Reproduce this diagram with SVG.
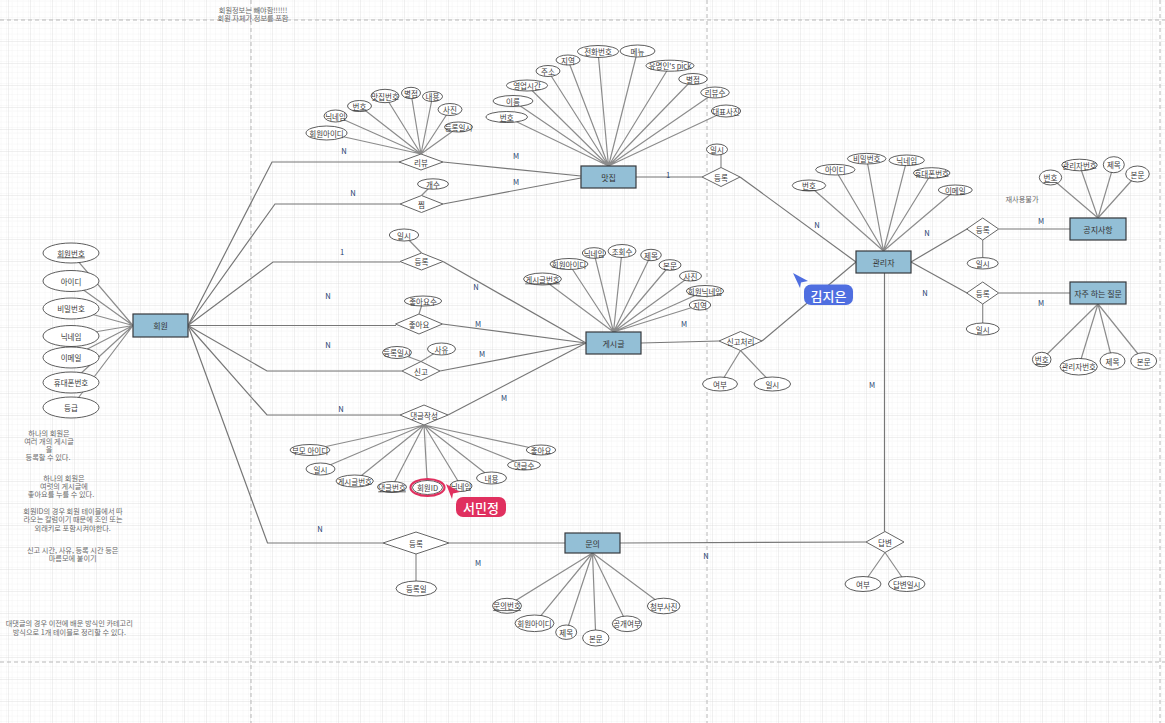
<svg xmlns="http://www.w3.org/2000/svg" width="1165" height="723" viewBox="0 0 1165 723">
<defs>
<pattern id="gMinor" x="9" y="20" width="5.5" height="5.5" patternUnits="userSpaceOnUse">
<path d="M5.5 0V5.5H0" fill="none" stroke="#ececec" stroke-width="0.6"/>
</pattern>
<pattern id="gMajor" x="9" y="20" width="22" height="22" patternUnits="userSpaceOnUse">
<rect width="22" height="22" fill="url(#gMinor)"/>
<path d="M22 0V22H0" fill="none" stroke="#d9d9d9" stroke-width="0.8"/>
</pattern>
<style>
text{font-family:"Noto Sans CJK KR","Noto Sans",sans-serif;text-anchor:middle;dominant-baseline:central}
.ent rect{fill:#93bfd6;stroke:#36393d;stroke-width:1.2}
.ent text{font-size:8px;fill:#333}
.attr ellipse{fill:#fff;stroke:#333;stroke-width:0.8}
.attr text{font-size:7.5px;fill:#3a3a3a}
.pk text{text-decoration:underline}
.rel polygon{fill:#fff;stroke:#666;stroke-width:1}
.rel text{font-size:7.5px;fill:#3a3a3a}
.c{fill:none;stroke:#777;stroke-width:1.2}
.a{fill:none;stroke:#8c8c8c;stroke-width:1.2}
.card{font-size:7.5px;fill:#23406e}
.note{font-size:7.2px;fill:#6a6a6a}
.page{stroke:#b8b8b8;stroke-width:1;stroke-dasharray:4 3;fill:none}
</style>
</defs>
<rect width="1165" height="723" fill="#fff"/>
<rect width="1165" height="723" fill="url(#gMajor)"/>
<g id="pages">
<path class="page" d="M0 20H1165M0 662H1165M251 0V723M707 0V723M1160 0V723"/>
</g>

<g id="connectors">
<path class="c" d="M188 325.5L272 162H400"/>
<path class="c" d="M188 325.5L275 204H400"/>
<path class="c" d="M188 325.5L273 262H400"/>
<path class="c" d="M188 325.5H396"/>
<path class="c" d="M188 325.5L267 371H402"/>
<path class="c" d="M188 325.5L267 415H400"/>
<path class="c" d="M188 325.5L267.5 543H383"/>
<path class="c" d="M443 162L581 176"/>
<path class="c" d="M443 204L581 178"/>
<path class="c" d="M636 177H702"/>
<path class="c" d="M740 177L856 262"/>
<path class="c" d="M443 261.5L586 343"/>
<path class="c" d="M442.5 324L586 343"/>
<path class="c" d="M440 371L586 343"/>
<path class="c" d="M448 415L586 343"/>
<path class="c" d="M641 343L719 341"/>
<path class="c" d="M762 341L856 262"/>
<path class="c" d="M911 262L967 229"/>
<path class="c" d="M911 262L967 293"/>
<path class="c" d="M999 229H1070"/>
<path class="c" d="M999 293H1070"/>
<path class="c" d="M884.5 273V531.5"/>
<path class="c" d="M449 543H565"/>
<path class="c" d="M620 543L866 542"/>
<path class="a" d="M133 325.5L71 253M133 325.5L71 281M133 325.5L71 308.5M133 325.5L71 336M133 325.5L71 357.5M133 325.5L71 382.5M133 325.5L71 407.5"/>
<path class="a" d="M421 154L326.5 133M421 154L335.5 116M421 154L359.5 106M421 154L385 96M421 154L411 93M421 154L432.5 96.5M421 154L450 109.5M421 154L458.5 127"/>
<path class="a" d="M608.5 166L506.7 117M608.5 166L513 101M608.5 166L527 85.5M608.5 166L548 71M608.5 166L568 60M608.5 166L598 51.5M608.5 166L637.5 51M608.5 166L670 65.7M608.5 166L693 79M608.5 166L715 92.5M608.5 166L726 111"/>
<path class="a" d="M721 167.5V150"/>
<path class="a" d="M421.5 195.5L433 184"/>
<path class="a" d="M421.5 253L404 235"/>
<path class="a" d="M419 314L423 301"/>
<path class="a" d="M421 361.5L397 352.5M421 361.5L441.5 349"/>
<path class="a" d="M613.5 332L542.5 279M613.5 332L569 264M613.5 332L594 253M613.5 332L622 251M613.5 332L651 255M613.5 332L670 265M613.5 332L690.5 276M613.5 332L705 291M613.5 332L700 305"/>
<path class="a" d="M424 425L310 450M424 425L320.5 469M424 425L354.7 481M424 425L392 487M424 425L427.5 487.5M424 425L461 486M424 425L491.5 478M424 425L524 465M424 425L541 450"/>
<path class="a" d="M740.5 350.5L720 384M740.5 350.5L772.3 384"/>
<path class="a" d="M883.5 251L809 185.5M883.5 251L835.3 169.7M883.5 251L866.7 158.7M883.5 251L906.7 160.3M883.5 251L931.7 173M883.5 251L955.3 190"/>
<path class="a" d="M982.7 240V263M982.7 304V329"/>
<path class="a" d="M1098 218L1050.5 177.5M1098 218L1079.5 165M1098 218L1113.8 164.7M1098 218L1137.5 174"/>
<path class="a" d="M1098 304L1041.7 359.5M1098 304L1078.7 366.7M1098 304L1112.5 361M1098 304L1143.7 361"/>
<path class="a" d="M885 552.5L863 584M885 552.5L906.7 584"/>
<path class="a" d="M416 554V588"/>
<path class="a" d="M592.5 553L507 605.8M592.5 553L534.5 623.3M592.5 553L566.2 632.2M592.5 553L595.8 638M592.5 553L627 623.8M592.5 553L663.7 606"/>
</g>

<g id="cardinalities">
<text class="card" x="344" y="150">N</text>
<text class="card" x="516" y="155">M</text>
<text class="card" x="353" y="192">N</text>
<text class="card" x="516" y="181">M</text>
<text class="card" x="668" y="174">1</text>
<text class="card" x="342" y="251">1</text>
<text class="card" x="476" y="286">N</text>
<text class="card" x="328" y="295">N</text>
<text class="card" x="478" y="323">M</text>
<text class="card" x="328" y="344">N</text>
<text class="card" x="482" y="353">M</text>
<text class="card" x="341" y="408">N</text>
<text class="card" x="504" y="397">M</text>
<text class="card" x="684" y="323">M</text>
<text class="card" x="817" y="224">N</text>
<text class="card" x="927" y="232">N</text>
<text class="card" x="1041" y="220">M</text>
<text class="card" x="925" y="292">N</text>
<text class="card" x="1041" y="302">M</text>
<text class="card" x="872" y="384">M</text>
<text class="card" x="320" y="528">N</text>
<text class="card" x="478" y="562">M</text>
<text class="card" x="706" y="555">N</text>
</g>

<g id="e_member" class="ent"><rect x="133" y="314" width="55" height="23"/><text x="160.5" y="325.5">회원</text></g>
<g id="e_restaurant" class="ent"><rect x="581" y="166" width="55" height="22"/><text x="608.5" y="177">맛집</text></g>
<g id="e_post" class="ent"><rect x="586" y="332" width="55" height="22"/><text x="613.5" y="343">게시글</text></g>
<g id="e_admin" class="ent"><rect x="856" y="251" width="55" height="22"/><text x="883.5" y="262">관리자</text></g>
<g id="e_notice" class="ent"><rect x="1070" y="218" width="56" height="22"/><text x="1098" y="229">공지사항</text></g>
<g id="e_faq" class="ent"><rect x="1070" y="282" width="56" height="22"/><text x="1098" y="293">자주 하는 질문</text></g>
<g id="e_inquiry" class="ent"><rect x="565" y="533" width="55" height="20"/><text x="592.5" y="543">문의</text></g>

<g id="r_review" class="rel"><polygon points="399,162 421,154 443,162 421,170"/><text x="421" y="162">리뷰</text></g>
<g id="r_wish" class="rel"><polygon points="400,204 421.5,195.5 443,204 421.5,212.5"/><text x="421.5" y="204">찜</text></g>
<g id="r_regpost" class="rel"><polygon points="400,261.5 421.5,253 443,261.5 421.5,270"/><text x="421.5" y="261.5">등록</text></g>
<g id="r_like" class="rel"><polygon points="395.5,324 419,314 442.5,324 419,334"/><text x="419" y="324">좋아요</text></g>
<g id="r_report" class="rel"><polygon points="402,371 421,361.5 440,371 421,380.5"/><text x="421" y="371">신고</text></g>
<g id="r_comment" class="rel"><polygon points="400,415 424,405 448,415 424,425"/><text x="424" y="415">댓글작성</text></g>
<g id="r_regrest" class="rel"><polygon points="702,177 721,167.5 740,177 721,186.5"/><text x="721" y="177">등록</text></g>
<g id="r_reportproc" class="rel"><polygon points="719,341 740.5,331.5 762,341 740.5,350.5"/><text x="740.5" y="341">신고처리</text></g>
<g id="r_regnotice" class="rel"><polygon points="966.7,229 982.7,218 998.7,229 982.7,240"/><text x="982.7" y="229">등록</text></g>
<g id="r_regfaq" class="rel"><polygon points="966.7,293 982.7,282 998.7,293 982.7,304"/><text x="982.7" y="293">등록</text></g>
<g id="r_reginq" class="rel"><polygon points="383,543 416,532 449,543 416,554"/><text x="416" y="543">등록</text></g>
<g id="r_answer" class="rel"><polygon points="866,542 885,531.5 904,542 885,552.5"/><text x="885" y="542">답변</text></g>

<g id="a_m1" class="attr pk"><ellipse cx="71" cy="253" rx="28" ry="10"/><text x="71" y="253">회원번호</text></g>
<g id="a_m2" class="attr"><ellipse cx="71" cy="281" rx="28" ry="10.5"/><text x="71" y="281">아이디</text></g>
<g id="a_m3" class="attr"><ellipse cx="71" cy="308.5" rx="28" ry="10.5"/><text x="71" y="308.5">비밀번호</text></g>
<g id="a_m4" class="attr"><ellipse cx="71" cy="336" rx="28" ry="10.5"/><text x="71" y="336">닉네임</text></g>
<g id="a_m5" class="attr"><ellipse cx="71" cy="357.5" rx="28" ry="10.5"/><text x="71" y="357.5">이메일</text></g>
<g id="a_m6" class="attr"><ellipse cx="71" cy="382.5" rx="28" ry="10.5"/><text x="71" y="382.5">휴대폰번호</text></g>
<g id="a_m7" class="attr"><ellipse cx="71" cy="407.5" rx="28" ry="10.5"/><text x="71" y="407.5">등급</text></g>

<g id="a_rv1" class="attr"><ellipse cx="326.5" cy="133" rx="20.5" ry="7"/><text x="326.5" y="133">회원아이디</text></g>
<g id="a_rv2" class="attr"><ellipse cx="335.5" cy="116" rx="11.5" ry="6"/><text x="335.5" y="116">닉네임</text></g>
<g id="a_rv3" class="attr pk"><ellipse cx="359.5" cy="106" rx="12" ry="5.5"/><text x="359.5" y="106">번호</text></g>
<g id="a_rv4" class="attr"><ellipse cx="385" cy="96" rx="14" ry="6.7"/><text x="385" y="96">맛집번호</text></g>
<g id="a_rv5" class="attr"><ellipse cx="411" cy="93" rx="9.5" ry="5.7"/><text x="411" y="93">별점</text></g>
<g id="a_rv6" class="attr"><ellipse cx="432.5" cy="96.5" rx="10" ry="5"/><text x="432.5" y="96.5">내용</text></g>
<g id="a_rv7" class="attr"><ellipse cx="450" cy="109.5" rx="12" ry="6"/><text x="450" y="109.5">사진</text></g>
<g id="a_rv8" class="attr"><ellipse cx="458.5" cy="127" rx="14" ry="5"/><text x="458.5" y="127">등록일시</text></g>

<g id="a_rs1" class="attr pk"><ellipse cx="506.7" cy="117" rx="20.7" ry="5.5"/><text x="506.7" y="117">번호</text></g>
<g id="a_rs2" class="attr"><ellipse cx="513" cy="101" rx="20" ry="5.5"/><text x="513" y="101">이름</text></g>
<g id="a_rs3" class="attr"><ellipse cx="527" cy="85.5" rx="20.5" ry="5.5"/><text x="527" y="85.5">영업시간</text></g>
<g id="a_rs4" class="attr"><ellipse cx="548" cy="71" rx="12" ry="5.5"/><text x="548" y="71">주소</text></g>
<g id="a_rs5" class="attr"><ellipse cx="568" cy="60" rx="12" ry="5"/><text x="568" y="60">지역</text></g>
<g id="a_rs6" class="attr"><ellipse cx="598" cy="51.5" rx="20.5" ry="6"/><text x="598" y="51.5">전화번호</text></g>
<g id="a_rs7" class="attr"><ellipse cx="637.5" cy="51" rx="17.5" ry="6"/><text x="637.5" y="51">메뉴</text></g>
<g id="a_rs8" class="attr"><ellipse cx="670" cy="65.7" rx="24" ry="5.5"/><text x="670" y="65.7">유명인's pick</text></g>
<g id="a_rs9" class="attr"><ellipse cx="693" cy="79" rx="14.3" ry="5.5"/><text x="693" y="79">별점</text></g>
<g id="a_rs10" class="attr"><ellipse cx="715" cy="92.5" rx="14.3" ry="5.5"/><text x="715" y="92.5">리뷰수</text></g>
<g id="a_rs11" class="attr"><ellipse cx="726" cy="111" rx="14.7" ry="6"/><text x="726" y="111">대표사진</text></g>
<g id="a_rs12" class="attr"><ellipse cx="717" cy="149.5" rx="10.5" ry="5.5"/><text x="717" y="149.5">일시</text></g>

<g id="a_w1" class="attr"><ellipse cx="433" cy="184" rx="15.5" ry="5.2"/><text x="433" y="184">개수</text></g>
<g id="a_rp1" class="attr"><ellipse cx="404" cy="235" rx="14.7" ry="6"/><text x="404" y="235">일시</text></g>
<g id="a_lk1" class="attr"><ellipse cx="423" cy="301" rx="18.7" ry="5"/><text x="423" y="301">좋아요수</text></g>
<g id="a_rt1" class="attr"><ellipse cx="397" cy="352.5" rx="14.5" ry="6"/><text x="397" y="352.5">등록일시</text></g>
<g id="a_rt2" class="attr"><ellipse cx="441.5" cy="349" rx="14" ry="6"/><text x="441.5" y="349">사유</text></g>

<g id="a_p1" class="attr pk"><ellipse cx="542.5" cy="279" rx="19" ry="6"/><text x="542.5" y="279">게시글번호</text></g>
<g id="a_p2" class="attr"><ellipse cx="569" cy="264" rx="19" ry="5.5"/><text x="569" y="264">회원아이디</text></g>
<g id="a_p3" class="attr"><ellipse cx="594" cy="253" rx="11.7" ry="5.3"/><text x="594" y="253">닉네임</text></g>
<g id="a_p4" class="attr"><ellipse cx="622" cy="251" rx="14" ry="6.5"/><text x="622" y="251">조회수</text></g>
<g id="a_p5" class="attr"><ellipse cx="651" cy="255" rx="10.3" ry="5.7"/><text x="651" y="255">제목</text></g>
<g id="a_p6" class="attr"><ellipse cx="670" cy="265" rx="11" ry="5.3"/><text x="670" y="265">본문</text></g>
<g id="a_p7" class="attr"><ellipse cx="690.5" cy="276" rx="11" ry="5"/><text x="690.5" y="276">사진</text></g>
<g id="a_p8" class="attr"><ellipse cx="705" cy="291" rx="18.7" ry="5.5"/><text x="705" y="291">회원닉네임</text></g>
<g id="a_p9" class="attr"><ellipse cx="700" cy="305" rx="10.7" ry="5"/><text x="700" y="305">지역</text></g>

<g id="a_c1" class="attr"><ellipse cx="310" cy="450" rx="20" ry="5.5"/><text x="310" y="450">부모 아이디</text></g>
<g id="a_c2" class="attr"><ellipse cx="320.5" cy="469" rx="14.5" ry="6"/><text x="320.5" y="469">일시</text></g>
<g id="a_c3" class="attr"><ellipse cx="354.7" cy="481" rx="18.7" ry="6"/><text x="354.7" y="481">게시글번호</text></g>
<g id="a_c4" class="attr pk"><ellipse cx="392" cy="487" rx="14.5" ry="5.5"/><text x="392" y="487">댓글번호</text></g>
<g id="a_c5" class="attr"><ellipse cx="427.5" cy="487.5" rx="15" ry="7"/><text x="427.5" y="487.5">회원ID</text></g>
<g id="a_c6" class="attr"><ellipse cx="461" cy="486" rx="11" ry="5.5"/><text x="461" y="486">닉네임</text></g>
<g id="a_c7" class="attr"><ellipse cx="491.5" cy="478" rx="15" ry="6"/><text x="491.5" y="478">내용</text></g>
<g id="a_c8" class="attr"><ellipse cx="524" cy="465" rx="16.5" ry="5"/><text x="524" y="465">댓글수</text></g>
<g id="a_c9" class="attr"><ellipse cx="541" cy="450" rx="14.7" ry="5"/><text x="541" y="450">좋아요</text></g>

<g id="a_pr1" class="attr"><ellipse cx="720" cy="384" rx="17.5" ry="7"/><text x="720" y="384">여부</text></g>
<g id="a_pr2" class="attr"><ellipse cx="772.3" cy="384" rx="18.3" ry="7"/><text x="772.3" y="384">일시</text></g>

<g id="a_ad1" class="attr pk"><ellipse cx="809" cy="185.5" rx="16.7" ry="5.5"/><text x="809" y="185.5">번호</text></g>
<g id="a_ad2" class="attr"><ellipse cx="835.3" cy="169.7" rx="19.7" ry="5.3"/><text x="835.3" y="169.7">아이디</text></g>
<g id="a_ad3" class="attr"><ellipse cx="866.7" cy="158.7" rx="19.3" ry="5.3"/><text x="866.7" y="158.7">비밀번호</text></g>
<g id="a_ad4" class="attr"><ellipse cx="906.7" cy="160.3" rx="17.7" ry="5.3"/><text x="906.7" y="160.3">닉네임</text></g>
<g id="a_ad5" class="attr"><ellipse cx="931.7" cy="173" rx="18.3" ry="5.3"/><text x="931.7" y="173">휴대폰번호</text></g>
<g id="a_ad6" class="attr"><ellipse cx="955.3" cy="190" rx="17" ry="5"/><text x="955.3" y="190">이메일</text></g>
<g id="a_ad7" class="attr"><ellipse cx="982.7" cy="263.3" rx="15.5" ry="5.7"/><text x="982.7" y="263.3">일시</text></g>
<g id="a_ad8" class="attr"><ellipse cx="982.7" cy="329" rx="16.5" ry="6"/><text x="982.7" y="329">일시</text></g>

<g id="a_n1" class="attr pk"><ellipse cx="1050.5" cy="177.5" rx="11.2" ry="7.5"/><text x="1050.5" y="177.5">번호</text></g>
<g id="a_n2" class="attr"><ellipse cx="1079.5" cy="165" rx="17.8" ry="5.8"/><text x="1079.5" y="165">관리자번호</text></g>
<g id="a_n3" class="attr"><ellipse cx="1113.8" cy="164.7" rx="10.5" ry="8"/><text x="1113.8" y="164.7">제목</text></g>
<g id="a_n4" class="attr"><ellipse cx="1137.5" cy="174" rx="11.8" ry="8"/><text x="1137.5" y="174">본문</text></g>

<g id="a_f1" class="attr pk"><ellipse cx="1041.7" cy="359.5" rx="9.3" ry="7.2"/><text x="1041.7" y="359.5">번호</text></g>
<g id="a_f2" class="attr"><ellipse cx="1078.7" cy="366.7" rx="18.7" ry="8.3"/><text x="1078.7" y="366.7">관리자번호</text></g>
<g id="a_f3" class="attr"><ellipse cx="1112.5" cy="361" rx="12.5" ry="8.3"/><text x="1112.5" y="361">제목</text></g>
<g id="a_f4" class="attr"><ellipse cx="1143.7" cy="361" rx="13" ry="8.3"/><text x="1143.7" y="361">본문</text></g>

<g id="a_an1" class="attr"><ellipse cx="863" cy="584" rx="18" ry="7.5"/><text x="863" y="584">여부</text></g>
<g id="a_an2" class="attr"><ellipse cx="906.7" cy="584" rx="18.3" ry="7.5"/><text x="906.7" y="584">답변일시</text></g>

<g id="a_i0" class="attr"><ellipse cx="416.3" cy="588.5" rx="20.3" ry="7.5"/><text x="416.3" y="588.5">등록일</text></g>
<g id="a_i1" class="attr pk"><ellipse cx="507" cy="605.8" rx="14.5" ry="7.5"/><text x="507" y="605.8">문의번호</text></g>
<g id="a_i2" class="attr"><ellipse cx="534.5" cy="623.3" rx="19.5" ry="8.3"/><text x="534.5" y="623.3">회원아이디</text></g>
<g id="a_i3" class="attr"><ellipse cx="566.2" cy="632.2" rx="10.5" ry="7.2"/><text x="566.2" y="632.2">제목</text></g>
<g id="a_i4" class="attr"><ellipse cx="595.8" cy="638" rx="13.2" ry="8"/><text x="595.8" y="638">본문</text></g>
<g id="a_i5" class="attr"><ellipse cx="627" cy="623.8" rx="14.7" ry="7.8"/><text x="627" y="623.8">공개여부</text></g>
<g id="a_i6" class="attr"><ellipse cx="663.7" cy="606" rx="16.3" ry="7.8"/><text x="663.7" y="606">첨부사진</text></g>

<g id="notes">
<text class="note" x="253" y="9.5">회원정보는 빼야함!!!!!!</text>
<text class="note" x="253" y="18">회원 자체가 정보를 포함</text>
<text class="note" x="49" y="432.5">하나의 회원은</text>
<text class="note" x="49" y="440.5">여러 개의 게시글</text>
<text class="note" x="49" y="448.5">을</text>
<text class="note" x="48" y="456.5">등록할 수 있다.</text>
<text class="note" x="64" y="477.5">하나의 회원은</text>
<text class="note" x="64" y="485.5">여럿의 게시글에</text>
<text class="note" x="61" y="494">좋아요를 누를 수 있다.</text>
<text class="note" x="73" y="510.5">회원ID의 경우 회원 테이블에서 따</text>
<text class="note" x="73" y="519.3">라오는 칼럼이기 때문에 조인 또는</text>
<text class="note" x="72.7" y="528.3">외래키로 포함시켜야한다.</text>
<text class="note" x="72.7" y="550">신고 시간, 사유, 등록 시간 등은</text>
<text class="note" x="72.7" y="558.3">마름모에 붙이기</text>
<text class="note" x="69.3" y="623.3">대댓글의 경우 이전에 배운 방식인 카테고리</text>
<text class="note" x="69.3" y="632.3">방식으로 1개 테이블로 정리할 수 있다.</text>
<text class="note" x="1022" y="199">재사용불가</text>
</g>

<g id="cursor_kim">
<polygon points="793,273 808,281 801,282.5 800,288" fill="#4f6ee0"/>
<rect x="804" y="284.5" width="49" height="20.5" rx="7" fill="#4f6ee0"/>
<text x="828.5" y="295" style="font-size:13px;fill:#fff;font-weight:500">김지은</text>
</g>
<g id="cursor_seo">
<ellipse cx="427.5" cy="487.5" rx="17" ry="8.5" fill="none" stroke="#e0305f" stroke-width="2.2"/>
<polygon points="446,484 460,492 453,493.5 452,499" fill="#e0305f"/>
<rect x="456" y="497" width="50" height="20" rx="7" fill="#e0305f"/>
<text x="481" y="507" style="font-size:13px;fill:#fff;font-weight:500">서민정</text>
</g>
</svg>
